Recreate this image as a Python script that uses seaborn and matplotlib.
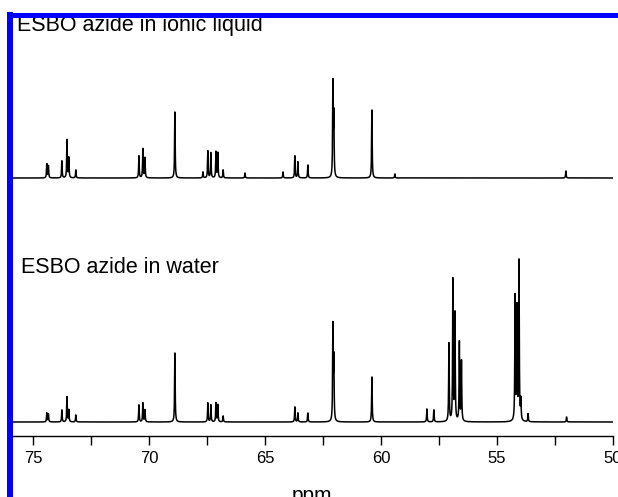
import numpy as np
import pandas as pd
import matplotlib
matplotlib.use("Agg")
import matplotlib.pyplot as plt
from matplotlib.lines import Line2D
from matplotlib.ticker import MultipleLocator
import seaborn as sns

# ---- data (ppm, peak height in plot units) ----
ppm_ionic = [74.40, 74.33, 73.75, 73.53, 73.45, 73.15, 70.43, 70.26, 70.17, 68.88,
             67.67, 67.46, 67.33, 67.11, 67.03, 66.80, 65.86, 64.22, 63.71, 63.58,
             63.15, 62.07, 62.03, 60.39, 59.40, 52.03]
h_ionic = [14, 12, 17, 38, 20, 8, 22, 29, 20, 66,
           6, 27, 25, 26, 25, 8, 5, 6, 22, 16,
           13, 93, 60, 68, 4, 7]

ppm_water = [74.40, 74.33, 73.75, 73.53, 73.45, 73.15, 70.43, 70.26, 70.17, 68.88,
             67.46, 67.33, 67.11, 67.03, 66.80, 63.71, 63.58, 63.15, 62.07, 62.03,
             60.39, 58.02, 57.72, 57.07, 56.90, 56.81, 56.62, 56.53, 54.22, 54.14,
             54.05, 53.97, 53.66, 52.00]
h_water = [9, 8, 12, 25, 12, 7, 17, 19, 12, 69,
           19, 17, 19, 17, 6, 15, 9, 9, 94, 60,
           45, 13, 12, 78, 141, 107, 79, 60, 124, 112,
           159, 20, 8, 5]

labels = ["ESBO azide in ionic liquid", "ESBO azide in water"]
tick_vals = [75, 70, 65, 60, 55, 50]
x_label = "ppm"

# ---- layout constants ----
OFFSET_TOP = 244
HWHM = 0.014

def spectrum(grid, centers, heights):
    y = np.zeros_like(grid)
    for c, h in zip(centers, heights):
        y += h / (1.0 + ((grid - c) / HWHM) ** 2)
    return y

grid = np.arange(50.0, 75.9, 0.002)
df = pd.concat([
    pd.DataFrame({"ppm": grid, "intensity": spectrum(grid, ppm_ionic, h_ionic) + OFFSET_TOP,
                  "sample": labels[0]}),
    pd.DataFrame({"ppm": grid, "intensity": spectrum(grid, ppm_water, h_water),
                  "sample": labels[1]}),
])

sns.set_style("ticks")
plt.rcParams["font.family"] = ["Liberation Sans", "DejaVu Sans"]
plt.rcParams["text.color"] = "black"
plt.rcParams["xtick.color"] = "black"
plt.rcParams["xtick.labelcolor"] = "black"

W, H = 618, 497
fig = plt.figure(figsize=(W / 100, H / 100), dpi=100)
ax = fig.add_axes([12 / W, 61 / H, 601 / W, 419 / H])

sns.lineplot(data=df, x="ppm", y="intensity", units="sample", estimator=None,
             sort=False, color="black", lw=1.1, ax=ax)

ax.set_xlim(75.9, 50)
ax.set_ylim(-14, 405)
for s in ["left", "right", "top"]:
    ax.spines[s].set_visible(False)
ax.spines["bottom"].set_linewidth(1.0)
ax.spines["bottom"].set_color("black")
ax.set_xticks(tick_vals)
ax.set_xticklabels([str(t) for t in tick_vals])
ax.xaxis.set_minor_locator(MultipleLocator(2.5))
ax.tick_params(axis="x", which="both", direction="out", length=6.5, width=1.0,
               colors="black", labelcolor="black", labelsize=12, pad=4)
ax.set_yticks([])
ax.set_xlabel("")
ax.set_ylabel("")

# sample labels
fig.text(17 / W, 1 - 31 / H, labels[0], fontsize=15.5, va="baseline", ha="left",
         color="black", zorder=3)
fig.text(21 / W, 1 - 273 / H, labels[1], fontsize=15.5, va="baseline", ha="left",
         color="black", zorder=3)
# axis label (partly cut off at the bottom, as in the reference)
fig.text(312 / W, 1 - 501 / H, x_label, fontsize=15, va="baseline", ha="center",
         color="black", zorder=3)

# blue frame
fig.add_artist(Line2D([10 / W, 10 / W], [0, 1 - 12 / H], lw=6 * 0.72, color="#0000ff",
                      solid_capstyle="butt", transform=fig.transFigure, zorder=10))
fig.add_artist(Line2D([7 / W, 1], [1 - 14.5 / H, 1 - 14.5 / H], lw=5 * 0.72, color="#0000ff",
                      solid_capstyle="butt", transform=fig.transFigure, zorder=10))
fig.add_artist(Line2D([617.5 / W, 617.5 / W], [0, 1 - 14 / H], lw=0.72, color="#a8a8ff",
                      transform=fig.transFigure, zorder=10))
fig.add_artist(Line2D([13 / W, 1], [0.5 / H, 0.5 / H], lw=0.72, color="#d8d8ff",
                      transform=fig.transFigure, zorder=10))

fig.savefig("out.png", dpi=100)
